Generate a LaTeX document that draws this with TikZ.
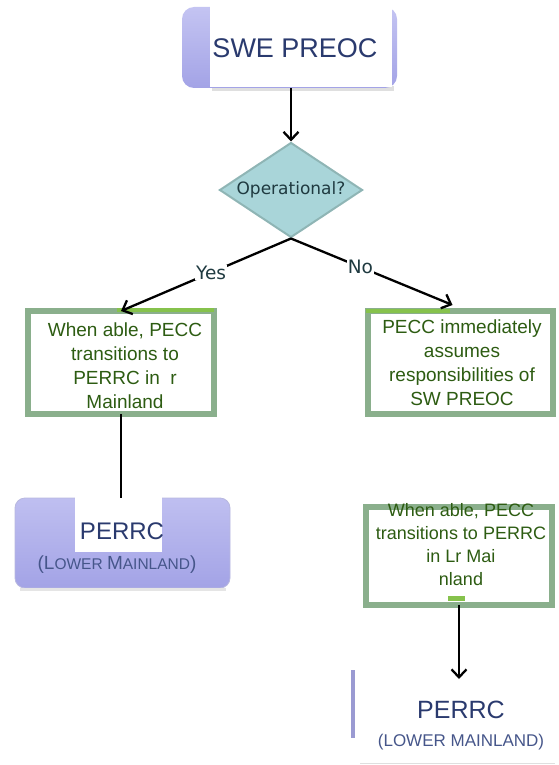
\documentclass[tikz,border=0pt]{standalone}
\usepackage{fontspec}
\setmainfont{Liberation Sans}
\newfontfamily\dejavu{DejaVu Sans}
\usetikzlibrary{shapes.geometric,arrows.meta,calc}
\definecolor{navy}{HTML}{2A3A6E}
\definecolor{navylt}{HTML}{46568A}
\definecolor{purp}{HTML}{A3A3E6}
\definecolor{purplt}{HTML}{C4C4F2}
\definecolor{purpline}{HTML}{9A9AD2}
\definecolor{dfill}{HTML}{A9D5D9}
\definecolor{dline}{HTML}{8FB5B5}
\definecolor{gline}{HTML}{8AAF8C}
\definecolor{glt}{HTML}{86C24C}
\definecolor{gtext}{HTML}{2D5C12}
\definecolor{dtext}{HTML}{1F3A40}
\tikzset{
  gbox/.style={draw=gline, line width=6pt, fill=white, outer sep=0pt, inner sep=0pt},
  gtxt/.style={text=gtext, align=center, inner sep=0pt},
  conn/.style={line width=2.3pt, draw=black},
  tip/.style={-{Straight Barb[length=8pt,width=15pt,line width=2.3pt]}},
  lab/.style={fill=white, inner sep=1pt, text=dtext, font=\dejavu\fontsize{18.5}{21}\selectfont},
}
\begin{document}
\begin{tikzpicture}[x=1pt,y=-1pt]
\useasboundingbox (0,0) rectangle (558,765);
% --- top box SWE PREOC
\fill[gray!25] (212,86) rectangle (394,91);
\shade[top color=purplt, bottom color=purp, rounded corners=12pt] (182,7) rectangle (397,88);
\fill[white] (210,3) rectangle (392,87);
\node[inner sep=0pt, minimum width=215pt, minimum height=81pt] (swebox) at (289.5,47.5) {};
\node[text=navy, font=\fontsize{27}{30}\selectfont] (swe) at (295,48) {SWE PREOC};
% --- diamond
\node[diamond, aspect=1.5, minimum width=143pt, minimum height=95pt, inner sep=0pt,
      fill=dfill, draw=dline, line width=2pt, text=dtext,
      font=\dejavu\fontsize{17}{20}\selectfont] (op) at (291,190) {Operational?};
\draw[conn, tip] (swebox.south -| op.north) -- (op.north);
% --- left box
\node[gbox, minimum width=186pt, minimum height=103pt] (lbox) at (121,362.5) {};
\draw[glt, line width=4pt] (117,310) -- (214,310);
\node[gtxt, font=\fontsize{19}{24}\selectfont] (ltxt) at (125,366) {When able, PECC\\transitions to\\PERRC in \ r\\Mainland};
% --- right box
\node[gbox, minimum width=185pt, minimum height=103pt] (rbox) at (460.5,362.5) {};
\draw[glt, line width=4pt] (366,311) -- (450,311);
\node[gtxt, font=\fontsize{19}{24}\selectfont] (rtxt) at (462,363) {PECC immediately\\assumes\\responsibilities of\\SW PREOC};
% --- connectors from diamond
\coordinate (rtip) at ($(rbox.north)+(-8,-6)$);
\draw[conn, tip] (op.south) -- node[lab, pos=0.47] (yes) {Yes} (lbox.north);
\draw[conn, tip] (op.south) -- node[lab, pos=0.43] (no) {No} (rtip);
% --- left PERRC
\shade[top color=purplt!85!purp, bottom color=purp, rounded corners=10pt, draw=purpline!70, line width=0.8pt] (15,498) rectangle (230,588);
\fill[gray!20] (20,588) rectangle (226,591);
\fill[white] (75,490) rectangle (162,552);
\node[inner sep=0pt, minimum width=215pt, minimum height=90pt] (perrcL) at (122.5,543) {};
\draw[conn] (lbox.south) -- (lbox.south |- perrcL.north);
\node[text=navy, font=\fontsize{24}{28}\selectfont] (pl1) at (122,531) {PERRC};
\node[text=navylt] (pl2) at (117,565) {\fontsize{19}{22}\selectfont(L\fontsize{15.5}{22}\selectfont OWER \fontsize{19}{22}\selectfont M\fontsize{15.5}{22}\selectfont AINLAND\fontsize{19}{22}\selectfont)};
% --- right box 2
\node[gbox, minimum width=186pt, minimum height=98pt] (rbox2) at (459,555.5) {};
\fill[glt] (448,596) rectangle (465,601);
\node[gtxt, font=\fontsize{18}{23}\selectfont] (r2txt) at (461,545) {When able, PECC\\transitions to PERRC\\in Lr Mai\\nland};
% --- right PERRC
\draw[purpline, line width=4pt] (353,670) -- (353,738);
\node[text=navy, font=\fontsize{25}{28}\selectfont] (pr1) at (461,710) {PERRC};
\node[text=navylt, font=\fontsize{17}{20}\selectfont] (pr2) at (461,742) {(LOWER MAINLAND)};
\coordinate (prtop) at (rbox2.south |- 0,679);
\draw[conn, tip] (rbox2.south) -- (prtop);
\draw[gray!25, line width=1pt] (360,763) -- (555,763);
\end{tikzpicture}
\end{document}
